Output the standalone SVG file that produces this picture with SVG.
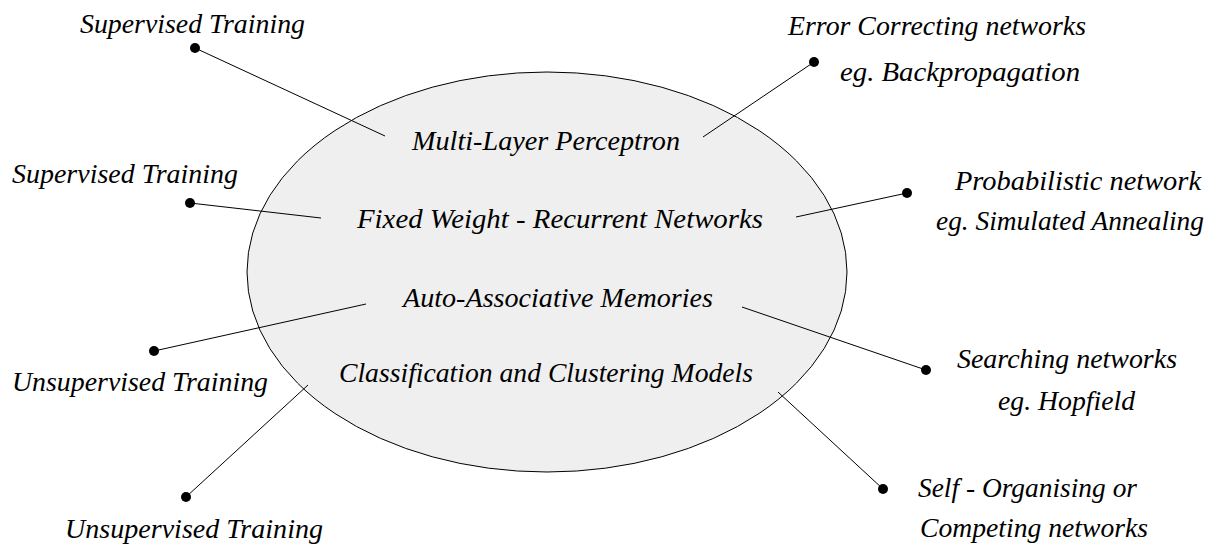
<svg xmlns="http://www.w3.org/2000/svg" width="1217" height="550" viewBox="0 0 1217 550">
<style>
text { font-family: 'Liberation Serif', 'Times New Roman', serif; font-style: italic; font-size: 27px; fill: #000; }
.conn line { stroke: #000; stroke-width: 1; marker-start: url(#dot); }
</style>
<defs>
<marker id="dot" markerUnits="userSpaceOnUse" markerWidth="12" markerHeight="12" refX="6" refY="6" viewBox="0 0 12 12">
<circle cx="6" cy="6" r="5" fill="#000"/>
</marker>
</defs>
<rect width="1217" height="550" fill="#fff"/>
<g id="center">
<ellipse cx="547" cy="272" rx="300" ry="200" fill="#efefef" stroke="#000" stroke-width="1"/>
<text x="412" y="150" textLength="268" lengthAdjust="spacingAndGlyphs">Multi-Layer Perceptron</text>
<text x="357" y="228" textLength="406" lengthAdjust="spacingAndGlyphs">Fixed Weight - Recurrent Networks</text>
<text x="403" y="307" textLength="310" lengthAdjust="spacingAndGlyphs">Auto-Associative Memories</text>
<text x="339" y="382" textLength="414" lengthAdjust="spacingAndGlyphs">Classification and Clustering Models</text>
</g>
<g id="connectors" class="conn">
<line x1="195" y1="48" x2="385" y2="136"/>
<line x1="190" y1="203" x2="321" y2="218"/>
<line x1="154" y1="351" x2="366" y2="304"/>
<line x1="186" y1="497" x2="308" y2="385"/>
<line x1="814" y1="62" x2="703" y2="137"/>
<line x1="907" y1="193" x2="796" y2="217"/>
<line x1="926" y1="370" x2="742" y2="307"/>
<line x1="883" y1="489" x2="778" y2="392"/>
</g>
<g id="supervised-1"><text x="80" y="33" textLength="225" lengthAdjust="spacingAndGlyphs">Supervised Training</text></g>
<g id="supervised-2"><text x="12" y="183" textLength="226" lengthAdjust="spacingAndGlyphs">Supervised Training</text></g>
<g id="unsupervised-1"><text x="12" y="391" textLength="256" lengthAdjust="spacingAndGlyphs">Unsupervised Training</text></g>
<g id="unsupervised-2"><text x="65" y="538" textLength="258" lengthAdjust="spacingAndGlyphs">Unsupervised Training</text></g>
<g id="error-correcting">
<text x="788" y="35" textLength="298" lengthAdjust="spacingAndGlyphs">Error Correcting networks</text>
<text x="840" y="81" textLength="240" lengthAdjust="spacingAndGlyphs">eg. Backpropagation</text>
</g>
<g id="probabilistic">
<text x="955" y="190" textLength="246" lengthAdjust="spacingAndGlyphs">Probabilistic network</text>
<text x="936" y="230" textLength="268" lengthAdjust="spacingAndGlyphs">eg. Simulated Annealing</text>
</g>
<g id="searching">
<text x="957" y="368" textLength="220" lengthAdjust="spacingAndGlyphs">Searching networks</text>
<text x="998" y="410" textLength="137" lengthAdjust="spacingAndGlyphs">eg. Hopfield</text>
</g>
<g id="self-organising">
<text x="918" y="497" textLength="219" lengthAdjust="spacingAndGlyphs">Self - Organising or</text>
<text x="920" y="537" textLength="228" lengthAdjust="spacingAndGlyphs">Competing networks</text>
</g>
</svg>
